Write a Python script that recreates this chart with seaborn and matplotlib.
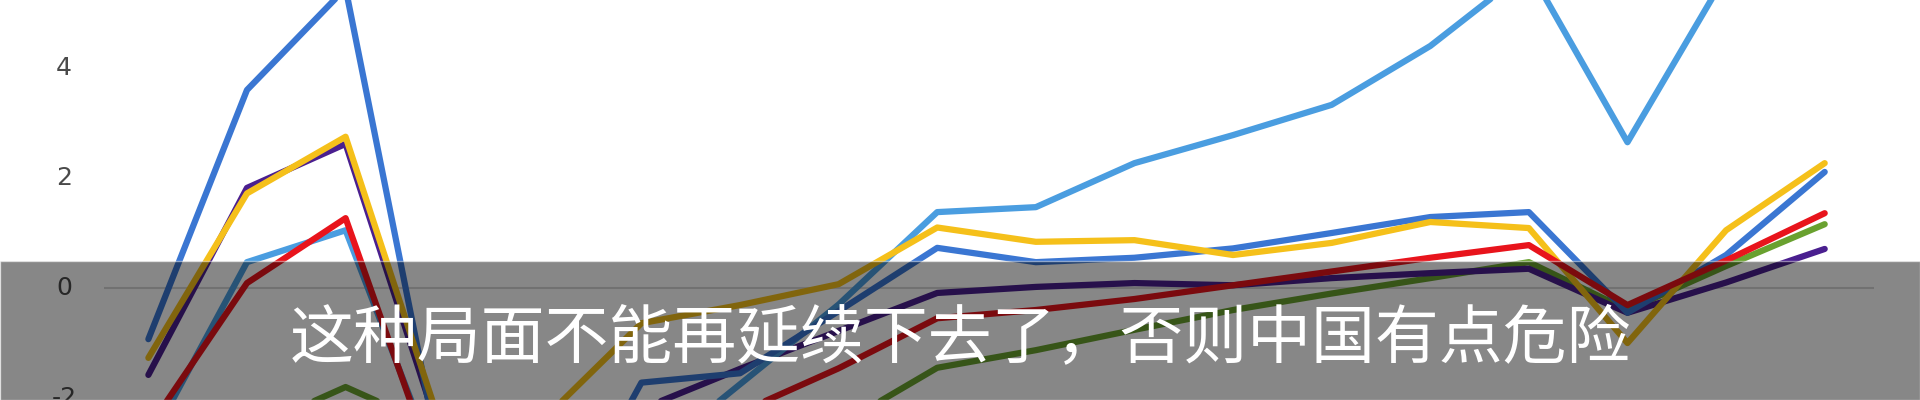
import numpy as np
import pandas as pd
import matplotlib
matplotlib.use('Agg')
import matplotlib.pyplot as plt
import matplotlib.patches as mpatches
import matplotlib.transforms as mtransforms
import seaborn as sns

# category positions (18 periods) and series
periods = [0, 1, 2, 3, 4, 5, 6, 7, 8, 9, 10, 11, 12, 13, 14, 15, 16, 17]
green = [-3.2, -2.6, -1.8, -2.6, -3.0, -3.0, -3.0, -2.5, -1.45, -1.13, -0.76, -0.4, -0.1, 0.18, 0.47, -0.4, 0.4, 1.16]
purple = [-1.58, 1.82, 2.62, -2.9, -3.2, -2.2, -1.47, -0.78, -0.09, 0.02, 0.09, 0.05, 0.18, 0.27, 0.35, -0.45, 0.1, 0.71]
light_blue = [-2.85, 0.47, 1.05, -3.6, -4.0, -3.2, -1.75, -0.3, 1.38, 1.47, 2.27, 2.78, 3.33, 4.4, 5.8, 2.65, 5.7, 6.2]
blue = [-0.93, 3.6, 5.45, -3.5, -5.0, -1.72, -1.55, -0.42, 0.73, 0.47, 0.55, 0.72, 1.0, 1.29, 1.38, -0.45, 0.6, 2.11]
yellow = [-1.27, 1.72, 2.75, -2.7, -2.4, -0.64, -0.31, 0.07, 1.1, 0.84, 0.87, 0.6, 0.82, 1.2, 1.09, -1.0, 1.05, 2.27]
red = [-2.55, 0.09, 1.27, -3.8, -3.5, -3.0, -2.26, -1.46, -0.55, -0.4, -0.2, 0.05, 0.3, 0.55, 0.78, -0.31, 0.5, 1.36]

series = {'green': green, 'purple': purple, 'light_blue': light_blue,
          'blue': blue, 'yellow': yellow, 'red': red}
COLORS = {'green': '#69a12f', 'purple': '#4a1f8f', 'light_blue': '#4a9de0',
          'blue': '#3a76d2', 'yellow': '#f5c01a', 'red': '#e8141c'}

y_ticks = [-2, 0, 2, 4]
caption = '这种局面不能再延续下去了，否则中国有点危险'

df = pd.concat([pd.DataFrame({'period': periods, 'value': v, 'series': k})
                for k, v in series.items()], ignore_index=True)

sns.set_theme(style='white')
plt.rcParams['font.family'] = ['Noto Sans CJK SC', 'DejaVu Sans']

fig = plt.figure(figsize=(19.2, 4), dpi=100)
fig.patch.set_facecolor('white')
ax = fig.add_axes([104 / 1920, 0, 1770 / 1920, 1])

ax.axhline(0, color='#d6d6d6', linewidth=1.5, zorder=1)
sns.lineplot(data=df, x='period', y='value', hue='series',
             hue_order=list(series.keys()), palette=COLORS,
             linewidth=4.5, ax=ax, legend=False, sort=False,
             solid_capstyle='round', solid_joinstyle='round')

ax.set_xlim(-0.45, 17.5)
ax.set_ylim(-2.036, 5.236)
ax.set_xticks([])
ax.set_yticks(y_ticks)
ax.set_yticklabels([])
ax.tick_params(axis='y', length=0)
# value labels sit ~40 px left of the plot area
lab_tr = mtransforms.blended_transform_factory(fig.transFigure, ax.transData)
for t in y_ticks:
    ax.text(64 / 1920, t, str(t), transform=lab_tr, color='#4a4a4a', fontsize=18,
            family=['DejaVu Sans'], ha='center', va='center', clip_on=False)
ax.set_xlabel(''); ax.set_ylabel('')
for s in ax.spines.values():
    s.set_visible(False)

# subtitle band laid over the chart
fig.patches.append(mpatches.Rectangle((0, 0), 1, 139 / 400, transform=fig.transFigure,
                                      facecolor='black', alpha=0.47, zorder=10))
fig.text(0.5, 1 - 339 / 400, caption, color='white', fontsize=46,
         fontweight='light', ha='center', va='center', zorder=11)

fig.savefig('out.png', dpi=100, facecolor='white')
